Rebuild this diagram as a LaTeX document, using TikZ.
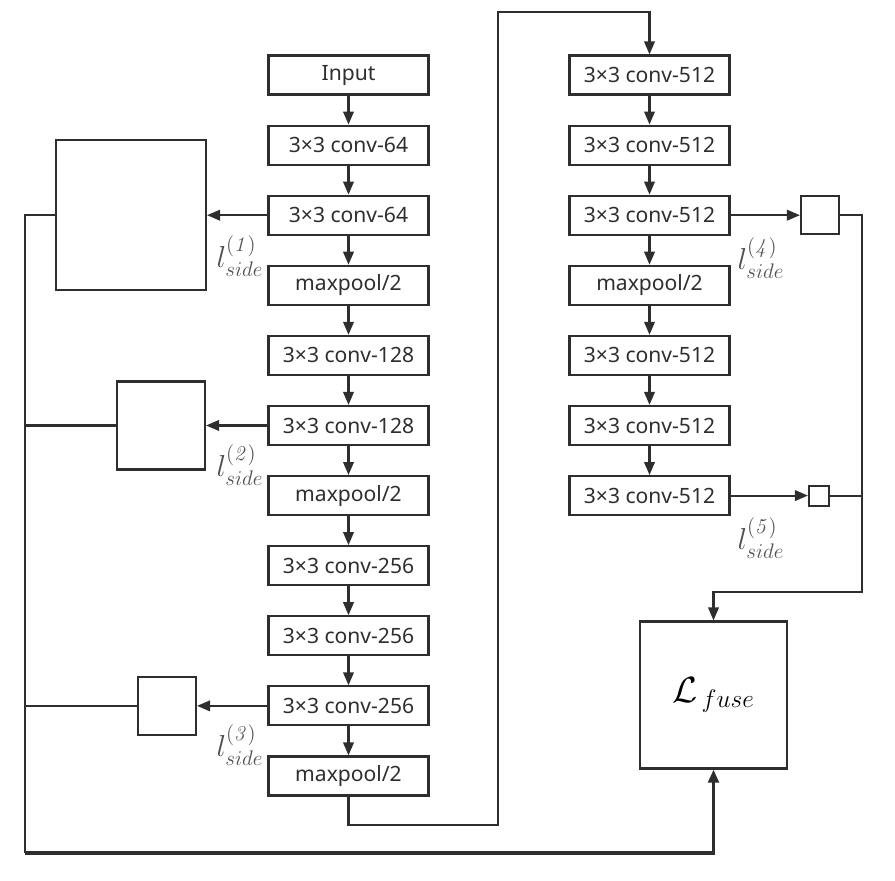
\documentclass[tikz,border=0pt]{standalone}
\usepackage{amsmath,amssymb}
\usepackage[no-math]{fontspec}
\newfontfamily\boxfont{Noto Sans}
\usepackage{xcolor}
\usetikzlibrary{arrows.meta, positioning, calc}
\definecolor{edgec}{HTML}{2E2E2E}
\definecolor{lblc}{HTML}{505050}

\begin{document}
\begin{tikzpicture}[x=0.02cm, y=-0.02cm, node distance=0.58cm, line width=1.2pt, >={Triangle[length=0.26cm,width=0.21cm]}]
        \tikzstyle{blk} = [rectangle, minimum width=3.2cm, minimum height=0.78cm, inner sep=0pt, draw=edgec, text=edgec, font=\boxfont\fontsize{12}{14}\selectfont]
        \tikzstyle{side} = [rectangle, inner sep=0pt, draw=edgec]
        \tikzstyle{lbl} = [text=lblc, font=\fontsize{18}{20}\selectfont]
        \tikzstyle{link} = [->, draw=edgec]

        \useasboundingbox (0,0) rectangle (895,880);

        % Left column
        \node (in) [blk] at (348.5,75) {Input};
        \node (c11) [blk, below=of in] {3×3 conv-64};
        \node (c12) [blk, below=of c11] {3×3 conv-64};
        \node (p1) [blk, below=of c12] {maxpool/2};
        \node (c21) [blk, below=of p1] {3×3 conv-128};
        \node (c22) [blk, below=of c21] {3×3 conv-128};
        \node (p2) [blk, below=of c22] {maxpool/2};
        \node (c31) [blk, below=of p2] {3×3 conv-256};
        \node (c32) [blk, below=of c31] {3×3 conv-256};
        \node (c33) [blk, below=of c32] {3×3 conv-256};
        \node (p3) [blk, below=of c33] {maxpool/2};

        % Right column
        \node (c41) [blk] at (649.5,75) {3×3 conv-512};
        \node (c42) [blk, below=of c41] {3×3 conv-512};
        \node (c43) [blk, below=of c42] {3×3 conv-512};
        \node (p4) [blk, below=of c43] {maxpool/2};
        \node (c51) [blk, below=of p4] {3×3 conv-512};
        \node (c52) [blk, below=of c51] {3×3 conv-512};
        \node (c53) [blk, below=of c52] {3×3 conv-512};

        \foreach \a/\b in {in/c11, c11/c12, c12/p1, p1/c21, c21/c22, c22/p2, p2/c31, c31/c32, c32/c33, c33/p3, c41/c42, c42/c43, c43/p4, p4/c51, c51/c52, c52/c53} { \draw [link] (\a) -- (\b); }

        % Side outputs
        \node (s1) [side, minimum size=3.0cm] at (c12 -| 131,0) {};
        \node (s2) [side, minimum size=1.76cm] at (c22 -| 161,0) {};
        \node (s3) [side, minimum size=1.16cm] at (c33 -| 167,0) {};
        \node (s4) [side, minimum size=0.76cm] at (c43 -| 820,0) {};
        \node (s5) [side, minimum size=0.4cm] at (c53 -| 819,0) {};
        \node (fuse) [side, minimum size=2.94cm, font=\fontsize{20}{22}\selectfont] at (713.5,695) {$\mathcal{L}_{\,fuse}$};

        \draw [link] (c12) -- (s1); \draw [link] (c22) -- (s2); \draw [link] (c33) -- (s3);
        \draw [link] (c43) -- (s4); \draw [link] (c53) -- (s5);

        \node (l1) [lbl] at (240,256) {$l_{side}^{\mathit{(1)}}$};
        \node (l2) [lbl] at (240,465) {$l_{side}^{\mathit{(2)}}$};
        \node (l3) [lbl] at (240,745) {$l_{side}^{\mathit{(3)}}$};
        \node (l4) [lbl] at (761,258) {$l_{side}^{\mathit{(4)}}$};
        \node (l5) [lbl] at (761,538) {$l_{side}^{\mathit{(5)}}$};

        % Column transition
        \coordinate (t1) at (498,825); \coordinate (t2) at (498,12);
        \draw [link] (p3.south) |- (t1) -- (t2) -| (c41.north);

        % Left bus
        \coordinate (lb) at (25,853);
        \draw [draw=edgec] (s1.west) -| (lb);
        \draw [draw=edgec] (s2.west) -- (s2.west -| lb); \draw [draw=edgec] (s3.west) -- (s3.west -| lb);
        \draw [link, line width=1.9pt] (lb) -| (fuse.south);

        % Right bus
        \coordinate (rb) at (862,592);
        \draw [link] (s4.east) -| (rb) -| (fuse.north);
        \draw [draw=edgec] (s5.east) -- (s5.east -| rb);
\end{tikzpicture}
\end{document}
